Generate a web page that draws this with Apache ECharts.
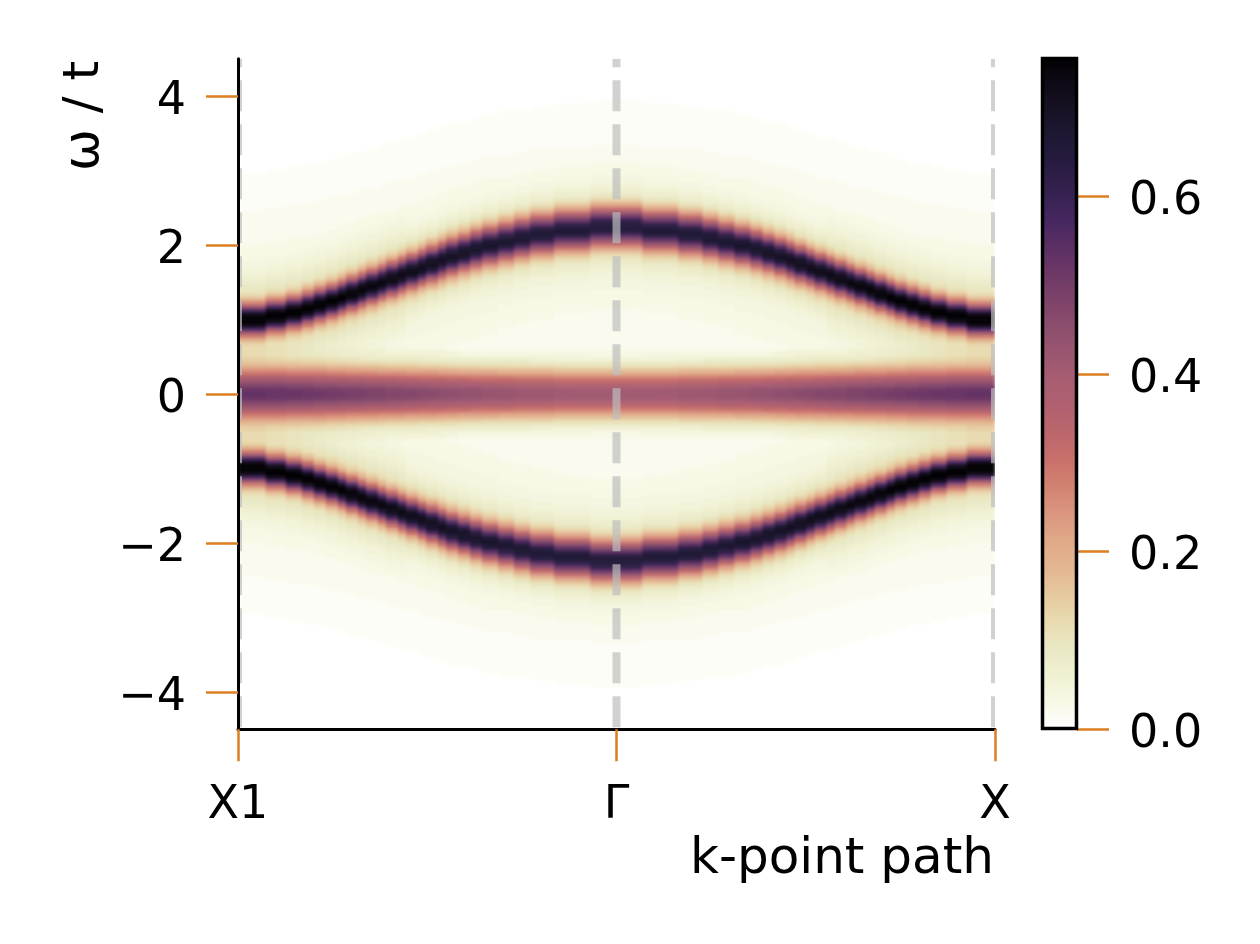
<!DOCTYPE html>
<html>
<head>
<meta charset="utf-8">
<style>html,body{margin:0;background:#fff}#chart{width:1260px;height:944px}</style>
<script src="https://cdn.jsdelivr.net/npm/echarts@6/dist/echarts.min.js"></script>
</head>
<body>
<div id="chart"></div>
<script>
// k-path ticks, y ticks, colorbar ticks
const kTicks = [0, 1, 2]
const kTickLabels = ['X1', 'Γ', 'X']
const omegaTicks = [-4, -2, 0, 2, 4]
const colorbarTicks = [0, 0.2, 0.4, 0.6]
const colorbarMax = 0.756
const colormap = ['#ffffff', '#f8f8e6', '#f0f1d2', '#e9e8c4', '#e9dbb0', '#e6c99f', '#e3b692', '#e0a988', '#db9680',
  '#d38372', '#c9706b', '#bc676c', '#b0606f', '#a85d71', '#9a5670', '#8b4e6d', '#7d4269', '#6d3867', '#5a2f64',
  '#452760', '#34214f', '#291c41', '#1e1835', '#181226', '#0f0a16', '#020103']

// which spectrum below each k column uses, from X1 to Γ (the path back to X is the same)
const kSpectrumHalf = [0,0,0,0,0,0,0,1,1,1,1,1,2,2,2,2,3,3,3,4,4,4,5,5,5,6,6,7,7,7,8,8,9,9,9,10,10,11,11,11,12,12,13,13,13,
  14,14,15,15,15,16,16,17,17,17,18,18,18,19,19,19,20,20,20,20,21,21,21,21,22,22,22,22,23,23,23,23,23,23,
  24,24,24,24,24,24,24,24,24,25,25,25,25,25,25,25]

// A(k, w) x 100, rows are w = 0.025, 0.075, ... upwards (w < 0 looks the same)
const spectra = [
  [53,51,47,42,37,30,25,19,16,14,12,12,12,14,19,28,41,57,72,79,78,71,56,40,27,18,13,10,9,8,7,6,5,5,4,4,3,3,3,3,2,2,2,2,2,2,2,2,2,1,1,1,1,1,1,1,1,1,1],
  [52,51,47,42,37,30,25,19,15,13,11,11,11,11,14,19,28,41,57,72,78,77,71,56,40,27,18,13,10,9,8,7,6,5,5,4,4,3,3,3,3,2,2,2,2,2,2,2,2,2,1,1,1,1,1,1,1,1,1,1],
  [52,50,46,41,36,29,24,18,15,12,10,10,10,10,11,14,19,28,41,57,72,78,77,71,56,40,27,18,13,10,9,8,7,6,5,5,4,4,3,3,3,3,2,2,2,2,2,2,2,2,2,1,1,1,1,1,1,1,1,1,1],
  [51,50,46,41,36,29,24,18,14,12,9,9,9,9,10,11,15,20,29,41,57,71,77,76,70,56,40,28,19,14,10,9,8,7,6,5,5,4,4,3,3,3,2,2,2,2,2,2,2,2,2,1,1,1,1,1,1,1,1,1,1,1],
  [51,49,45,40,35,29,24,18,14,11,9,8,8,8,9,10,11,15,20,29,42,57,71,77,76,70,56,41,28,19,14,10,9,8,7,6,5,5,4,4,3,3,3,2,2,2,2,2,2,2,2,2,1,1,1,1,1,1,1,1,1,1],
  [50,49,45,40,35,28,23,17,13,11,8,8,7,7,8,9,10,12,15,20,29,42,57,71,76,75,70,56,41,28,19,14,11,9,8,7,6,5,5,4,4,3,3,3,2,2,2,2,2,2,2,2,2,1,1,1,1,1,1,1,1,1,1],
  [50,48,44,40,35,28,23,17,13,10,8,7,7,6,7,8,9,10,12,15,20,29,42,57,70,76,75,69,56,41,28,19,14,11,9,8,7,6,5,5,4,4,3,3,3,2,2,2,2,2,2,2,2,1,1,1,1,1,1,1,1,1,1,1],
  [49,48,44,39,34,27,22,17,12,10,7,7,6,6,6,7,8,9,10,12,15,21,30,42,57,70,75,74,69,56,41,29,20,14,11,9,8,7,6,5,5,4,4,3,3,3,2,2,2,2,2,2,2,2,1,1,1,1,1,1,1,1,1,1,1],
  [49,47,44,39,34,27,22,16,12,9,7,6,6,5,6,6,7,8,9,10,12,16,21,30,42,57,70,75,74,69,56,41,29,20,15,11,9,8,7,6,5,5,4,4,3,3,3,2,2,2,2,2,2,2,2,1,1,1,1,1,1,1,1,1,1],
  [48,47,43,38,33,27,22,16,12,8,7,6,5,5,5,6,6,7,8,9,10,12,16,21,30,43,57,69,74,73,68,56,42,29,20,15,11,9,8,7,6,5,5,4,4,3,3,3,2,2,2,2,2,2,2,1,1,1,1,1,1,1,1,1,1,1],
  [48,47,43,38,33,26,21,16,11,8,6,6,5,4,5,5,6,6,7,8,9,10,12,16,21,30,43,56,68,74,73,67,55,42,29,20,15,11,9,8,7,6,5,5,4,4,3,3,3,2,2,2,2,2,2,2,1,1,1,1,1,1,1,1,1,1,1],
  [47,46,42,38,33,26,21,15,11,8,6,5,4,4,4,5,5,6,6,7,8,9,10,12,16,22,31,43,56,68,73,72,67,55,42,30,21,15,11,9,8,7,6,5,5,4,4,3,3,2,2,2,2,2,2,2,2,1,1,1,1,1,1,1,1,1,1,1],
  [47,46,42,37,32,26,21,15,11,8,6,5,4,3,4,4,5,5,6,6,7,8,8,10,12,16,22,31,43,56,68,73,72,67,55,42,30,21,15,11,9,7,7,6,5,5,4,4,3,3,2,2,2,2,2,2,2,2,1,1,1,1,1,1,1,1,1,1,1],
  [47,45,41,37,32,25,20,15,11,8,6,5,3,3,3,4,4,4,4,5,5,6,7,8,10,12,16,22,31,43,56,67,72,71,66,55,42,30,21,15,11,9,7,6,5,4,4,3,3,3,3,2,2,2,2,2,2,2,1,1,1,1,1,1,1,1,1,1,1],
  [46,45,41,36,31,25,20,14,10,8,6,5,3,3,3,3,4,4,4,4,5,5,6,7,8,10,12,16,22,31,43,56,67,72,71,66,55,42,30,21,15,11,9,7,6,5,4,4,3,3,3,3,2,2,2,2,2,2,2,1,1,1,1,1,1,1,1,1,1,1],
  [46,44,40,36,31,25,20,14,10,7,6,5,3,3,3,3,3,4,4,4,4,5,5,6,7,8,10,12,17,23,32,43,56,67,71,70,66,55,42,31,22,16,11,9,7,6,5,4,4,3,3,3,3,2,2,2,2,2,2,2,1,1,1,1,1,1,1,1,1,1,1],
  [45,44,40,36,31,24,19,14,10,7,5,5,3,3,3,3,3,3,4,4,4,4,5,5,6,7,8,10,13,17,23,32,44,56,66,71,70,65,55,43,31,22,16,12,9,7,6,5,4,4,3,3,3,3,2,2,2,2,2,2,2,1,1,1,1,1,1,1,1,1,1,1],
  [45,43,40,35,30,24,19,13,10,7,5,4,2,3,3,3,3,3,3,4,4,4,4,5,5,6,7,8,10,13,17,23,32,44,56,66,70,69,65,55,43,31,22,16,12,9,7,6,5,4,4,3,3,3,3,2,2,2,2,2,2,1,1,1,1,1,1,1,1,1,1,1,1],
  [44,43,39,35,30,23,18,13,9,7,4,3,2,2,3,3,3,3,3,3,4,4,4,4,5,5,6,7,8,10,13,17,23,32,44,56,66,70,69,65,55,43,31,22,16,12,9,7,6,5,4,4,3,3,3,3,2,2,2,2,2,2,1,1,1,1,1,1,1,1,1,1,1],
  [44,43,39,34,29,23,18,13,9,7,4,3,2,2,2,3,3,3,3,3,3,4,4,4,4,5,5,6,7,8,10,13,17,24,33,44,55,65,69,68,64,54,43,32,23,16,12,9,7,6,5,4,4,3,3,3,3,2,2,2,2,2,2,1,1,1,1,1,1,1,1,1,1,1],
  [43,42,38,34,29,23,18,12,9,7,4,3,2,2,2,2,3,3,3,3,3,3,4,4,4,4,5,5,6,7,8,10,13,17,24,33,44,55,65,69,68,64,54,43,32,23,16,12,9,7,6,5,4,4,3,3,3,3,2,2,2,2,2,2,1,1,1,1,1,1,1,1,1,1,1],
  [43,42,38,34,29,22,17,12,9,7,4,3,2,2,2,2,2,2,3,3,3,3,3,3,4,4,4,5,5,6,7,8,10,13,18,24,33,45,55,64,68,67,63,54,44,32,23,17,12,9,7,6,5,4,4,3,3,3,2,2,2,2,2,2,1,1,1,1,1,1,1,1,1,1,1,1],
  [42,41,37,33,28,22,17,12,9,7,4,3,2,2,2,2,2,2,2,3,3,3,3,3,3,4,4,4,5,5,6,7,8,10,13,18,24,34,45,55,64,68,67,63,54,44,33,23,17,12,9,7,6,5,4,4,3,3,3,2,2,2,2,2,2,1,1,1,1,1,1,1,1,1,1,1],
  [42,41,37,33,28,22,17,12,8,6,4,3,2,2,2,2,2,2,2,2,3,3,3,3,3,3,4,4,4,5,5,6,7,8,10,13,18,25,34,45,54,64,67,66,63,53,44,33,24,17,12,9,7,6,5,4,4,3,3,3,2,2,2,2,2,2,1,1,1,1,1,1,1,1,1,1,1],
  [41,40,36,32,27,21,16,11,8,5,4,3,2,2,2,2,2,2,2,2,2,2,3,3,3,3,3,4,4,4,5,5,6,7,8,10,13,18,25,34,45,54,63,67,66,62,53,44,33,24,17,12,9,7,6,5,4,4,3,3,3,2,2,2,2,2,1,1,1,1,1,1,1,1,1,1,1,1],
  [41,40,36,32,27,21,16,11,8,5,3,3,2,2,2,2,2,2,2,2,2,2,2,3,3,3,3,3,4,4,4,5,5,6,7,8,10,13,18,25,34,45,54,63,66,65,62,53,44,33,24,17,12,9,7,6,5,4,4,3,3,3,2,2,2,2,2,1,1,1,1,1,1,1,1,1,1,1,1]
]

const kColumns = kSpectrumHalf.concat(kSpectrumHalf.slice(0, -1).reverse())
const rowsPerSide = 90

// the colorbar saturates at its top, anything above stays black
let cells = []
kColumns.forEach((s, x) => {
  spectra[s].forEach((v, i) => {
    let value = Math.min(v / 100, colorbarMax)
    cells.push([x, rowsPerSide + i, value])
    cells.push([x, rowsPerSide - 1 - i, value])
  })
})

const font = 'DejaVu Sans'
const tickColor = '#dc7f22'
const tickLine = {color: tickColor, width: 2.5}
// matplotlib centers on the baseline, so the labels sit a bit under their tick
const tickFont = {fontFamily: font, fontSize: 46, color: '#000', margin: 52, verticalAlign: 'top', lineHeight: 12}

const myChart = echarts.init(document.getElementById('chart'), null, {renderer: 'canvas'})
myChart.setOption({
  animation: false,
  backgroundColor: '#fff',
  textStyle: {fontFamily: font},
  grid: [
    {left: 238, right: 265, top: 58.75, bottom: 214.75},
    {left: 1042, right: 183, top: 58, bottom: 215}
  ],
  xAxis: [
    {type: 'category', gridIndex: 0, show: false, data: kColumns.map((s, x) => x)},
    {
      type: 'value', gridIndex: 0, min: 0, max: 2, position: 'bottom', z: 10, zlevel: 1,
      splitLine: {show: false},
      axisLine: {onZero: false, lineStyle: {color: '#000', width: 3}},
      axisTick: {length: 32, lineStyle: tickLine, customValues: kTicks},
      axisLabel: {fontFamily: font, fontSize: 46, color: '#000', margin: 54, customValues: kTicks, formatter: v => kTickLabels[kTicks.indexOf(v)]}
    },
    {type: 'value', gridIndex: 1, show: false, min: 0, max: 1}
  ],
  yAxis: [
    {type: 'category', gridIndex: 0, show: false, data: Array.from({length: rowsPerSide * 2}, (_, i) => i)},
    {
      type: 'value', gridIndex: 0, min: -4.5, max: 4.5, position: 'left', z: 10, zlevel: 1,
      splitLine: {show: false},
      axisLine: {show: true, onZero: false, lineStyle: {color: '#000', width: 3}},
      axisTick: {show: true, length: 32, lineStyle: tickLine, customValues: omegaTicks},
      axisLabel: {...tickFont, customValues: omegaTicks, formatter: v => String(v).replace('-', '\u2212')}
    },
    {
      type: 'value', gridIndex: 1, min: 0, max: colorbarMax, position: 'right', zlevel: 1,
      splitLine: {show: false},
      axisLine: {show: false, onZero: false},
      axisTick: {show: true, length: 32, lineStyle: tickLine, customValues: colorbarTicks},
      axisLabel: {...tickFont, customValues: colorbarTicks, formatter: v => v.toFixed(1)}
    }
  ],
  visualMap: {
    type: 'continuous', seriesIndex: 0, min: 0, max: colorbarMax, zlevel: 1,
    left: 1042, top: 58, itemWidth: 35, itemHeight: 671, padding: 0,
    calculable: false, hoverLink: false, showLabel: false, text: null,
    inRange: {color: colormap}
  },
  series: [
    {
      type: 'heatmap', xAxisIndex: 0, yAxisIndex: 0, data: cells, progressive: 0, zlevel: 0,
      emphasis: {disabled: true}, silent: true
    },
    {
      // dashed high symmetry lines, half of the edge ones falls outside the axes
      type: 'custom', xAxisIndex: 1, yAxisIndex: 1, data: kTicks.map(v => [v]), silent: true, z: 5, zlevel: 1,
      renderItem: (params, api) => {
        let from = api.coord([api.value(0), -4.5])
        let to = api.coord([api.value(0), 4.5])
        let c = params.coordSys
        return {
          type: 'line',
          shape: {x1: from[0], y1: from[1], x2: to[0], y2: to[1]},
          style: {stroke: 'rgba(189,189,189,0.7)', fill: null, lineWidth: 8, lineDash: [31, 13], lineDashOffset: 42},
          clipPath: {type: 'rect', shape: {x: c.x, y: c.y, width: c.width, height: c.height}}
        }
      }
    }
  ],
  graphic: [
    {type: 'text', zlevel: 1, x: 994, y: 860, style: {text: 'k-point path', font: '50px "DejaVu Sans"', fill: '#000', align: 'right', verticalAlign: 'middle'}},
    {type: 'text', zlevel: 1, x: 85, y: 61, rotation: Math.PI / 2, style: {text: 'ω / t', font: '50px "DejaVu Sans"', fill: '#000', align: 'right', verticalAlign: 'middle'}},
    // colorbar frame
    {type: 'rect', zlevel: 1, z: 100, shape: {x: 1042.5, y: 58.5, width: 34, height: 670}, style: {fill: null, stroke: '#000', lineWidth: 3.5}}
  ]
})

// the heatmap has its own canvas: soften the row steps a little, keep it inside the axes
let heatLayer = document.querySelector('#chart canvas')
heatLayer.style.filter = 'blur(1.8px)'
heatLayer.style.clipPath = 'inset(58px 265px 215px 238px)'
</script>
</body>
</html>
